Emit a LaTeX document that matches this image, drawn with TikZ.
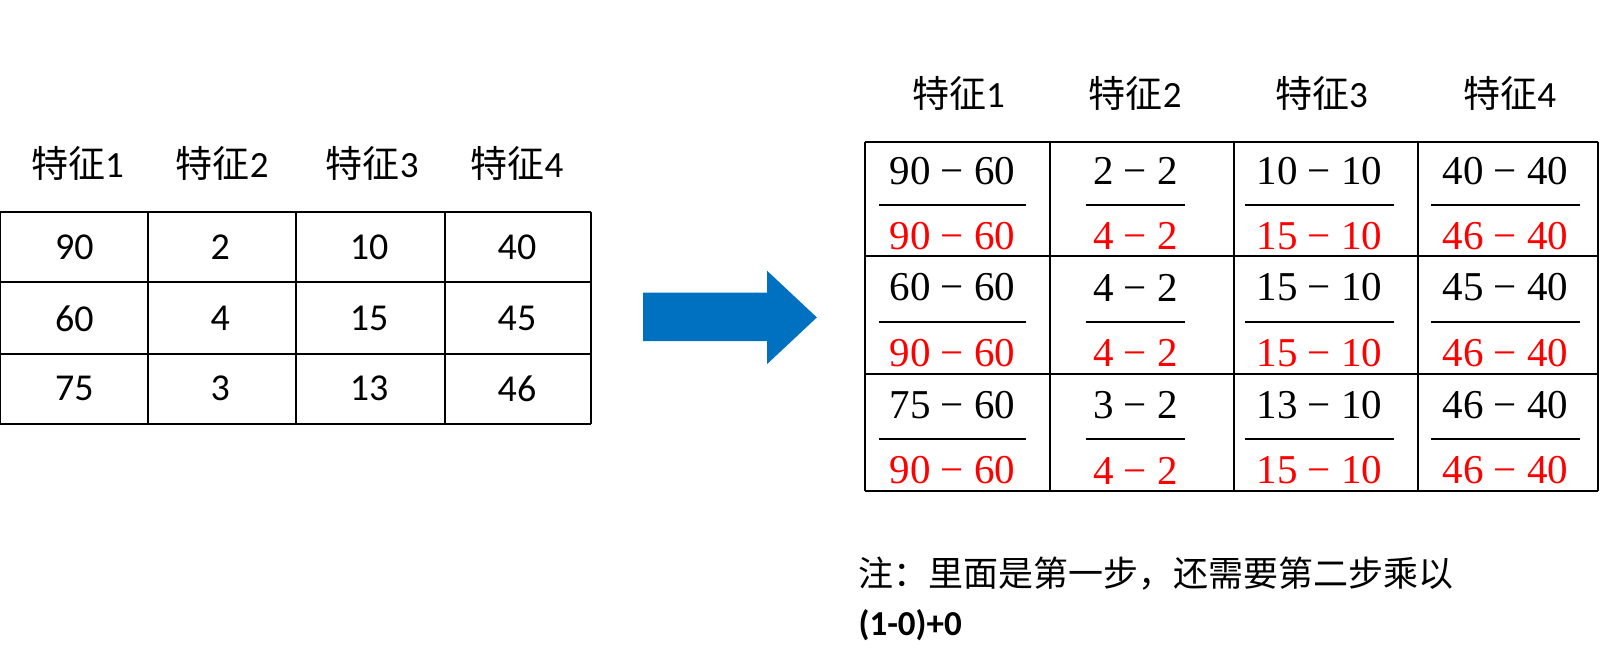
\documentclass[tikz,border=0pt]{standalone}
\usepackage{fontspec}
\setmainfont{Carlito}
\newfontfamily\cjk{Noto Sans CJK SC}
\newfontfamily\mathf{Liberation Serif}
\newcommand\cellfrac[5]{%
  \node[fr] at (#1,#2+28) {#4};%
  \draw[line width=1pt] (#1-#3,#2+61) -- (#1+#3,#2+61);%
  \node[fr,text=red] at (#1,#2+91) {#5};}
\begin{document}
\begin{tikzpicture}[x=0.5pt,y=-0.5pt,
  hdr/.style={font=\fontsize{18.5}{20}\selectfont,inner sep=0pt},
  num/.style={font=\fontsize{19}{20}\selectfont,inner sep=0pt},
  fr/.style={font=\mathf\fontsize{20.5}{22}\selectfont,inner sep=0pt},
  grid/.style={draw=black,line width=1pt}]
\useasboundingbox (0,0) rectangle (1614,664);
\begin{scope}[scale=1.034]
% left table
\foreach \y in {205,273,342,410} \draw[grid] (0,\y) -- (572,\y);
\foreach \x in {0,143,286,430,572} \draw[grid] (\x,205) -- (\x,410);
\foreach \x/\t in {75/1,215/2,360/3,500/4}
  \node[hdr] (lh\t) at (\x,158) {{\cjk 特征}\t};
\node[num] (l11) at (72,239) {90};\node[num] (l12) at (72,308) {60};\node[num] (l13) at (72,376) {75};
\node[num] (l21) at (213,239) {2};\node[num] (l22) at (213,308) {4};\node[num] (l23) at (213,376) {3};
\node[num] (l31) at (357,239) {10};\node[num] (l32) at (357,308) {15};\node[num] (l33) at (357,376) {13};
\node[num] (l41) at (500,239) {40};\node[num] (l42) at (500,308) {45};\node[num] (l43) at (500,376) {46};
% arrow
\fill[fill={rgb,255:red,0;green,112;blue,192}] (622,283) -- (742,283) -- (742,262) -- (790,307) -- (742,352) -- (742,330) -- (622,330) -- cycle;
% right table
\foreach \y in {137,248,362,475} \draw[grid] (837,\y) -- (1545,\y);
\foreach \x in {837,1015,1193,1371,1545} \draw[grid] (\x,137) -- (\x,475);
\foreach \x/\t in {927/1,1098/2,1278/3,1460/4}
  \node[hdr] (rh\t) at (\x,90) {{\cjk 特征}\t};
\cellfrac{921}{137}{71}{90 − 60}{90 − 60}
\cellfrac{921}{250}{71}{60 − 60}{90 − 60}
\cellfrac{921}{364}{71}{75 − 60}{90 − 60}
\cellfrac{1098}{137}{48}{2 − 2}{4 − 2}
\cellfrac{1098}{250}{48}{4 − 2}{4 − 2}
\cellfrac{1098}{364}{48}{3 − 2}{4 − 2}
\cellfrac{1276}{137}{72}{10 − 10}{15 − 10}
\cellfrac{1276}{250}{72}{15 − 10}{15 − 10}
\cellfrac{1276}{364}{72}{13 − 10}{15 − 10}
\cellfrac{1456}{137}{72}{40 − 40}{46 − 40}
\cellfrac{1456}{250}{72}{45 − 40}{46 − 40}
\cellfrac{1456}{364}{72}{46 − 40}{46 − 40}
% note
\node[anchor=west,font=\cjk\fontsize{17.5}{19}\selectfont,inner sep=0pt] (note1) at (830,555) {注：里面是第一步，还需要第二步乘以};
\node[anchor=west,font=\fontsize{17.5}{19}\selectfont\bfseries,inner sep=0pt] (note2) at (830,605) {(1-0)+0};
\end{scope}
\end{tikzpicture}
\end{document}
